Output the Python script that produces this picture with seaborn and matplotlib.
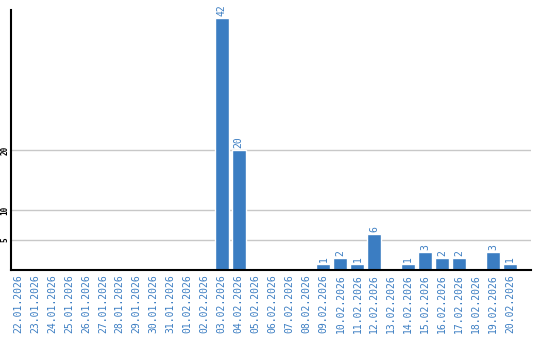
import matplotlib
matplotlib.use("Agg")
import matplotlib.pyplot as plt
import seaborn as sns
import pandas as pd

dates = ["22.01.2026", "23.01.2026", "24.01.2026", "25.01.2026", "26.01.2026",
         "27.01.2026", "28.01.2026", "29.01.2026", "30.01.2026", "31.01.2026",
         "01.02.2026", "02.02.2026", "03.02.2026", "04.02.2026", "05.02.2026",
         "06.02.2026", "07.02.2026", "08.02.2026", "09.02.2026", "10.02.2026",
         "11.02.2026", "12.02.2026", "13.02.2026", "14.02.2026", "15.02.2026",
         "16.02.2026", "17.02.2026", "18.02.2026", "19.02.2026", "20.02.2026"]
values = [0, 0, 0, 0, 0, 0, 0, 0, 0, 0,
          0, 0, 42, 20, 0, 0, 0, 0, 1, 2,
          1, 6, 0, 1, 3, 2, 2, 0, 3, 1]
yticks = [5, 10, 20]

sns.set_theme(style="white")
plt.rcParams['font.family'] = ['DejaVu Sans Mono', 'DejaVu Sans']

blue = "#3b7dc2"
df = pd.DataFrame({"date": dates, "value": values})

fig = plt.figure(figsize=(5.4, 3.4), dpi=100)
ax = fig.add_axes([11 / 540, 70 / 340, 520 / 540, 260 / 340])
sns.barplot(data=df, x="date", y="value", color=blue, saturation=1, width=0.82, ax=ax)

ax.set_xlim(-0.41, 30.23)
ax.set_ylim(0, 43.3)
ax.set_yticks(yticks)
ax.set_yticklabels([str(t) for t in yticks], rotation=90, va="center", ha="right",
                   fontsize=5.5, color="black", fontweight="bold")
ax.yaxis.grid(True, color="#c8c8c8", linewidth=1)
ax.set_axisbelow(True)
ax.tick_params(axis="y", length=0, pad=1)
ax.tick_params(axis="x", length=0, pad=3)
ax.set_xticks(range(len(dates)))
ax.set_xticklabels(dates, rotation=90, fontsize=7, color=blue)
ax.set_xlabel("")
ax.set_ylabel("")

for s in ["top", "right"]:
    ax.spines[s].set_visible(False)
for s in ["left", "bottom"]:
    ax.spines[s].set_color("black")
    ax.spines[s].set_linewidth(1.5)

for i, v in enumerate(values):
    if v > 0:
        ax.text(i, v + 0.3, str(v), rotation=90, ha="center", va="bottom",
                fontsize=7, color=blue)

fig.savefig("out.png", dpi=100)
